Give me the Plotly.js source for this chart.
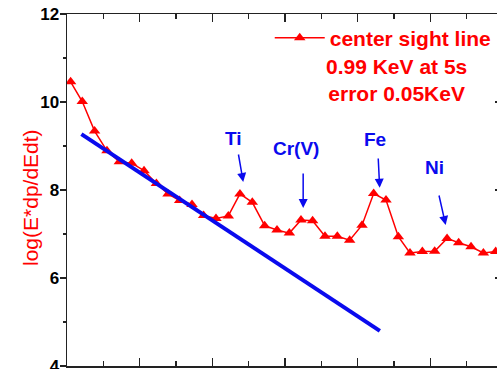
<!DOCTYPE html>
<html>
<head>
<meta charset="utf-8">
<script src="https://cdn.plot.ly/plotly-3.0.1.min.js"></script>
<style>
html, body { margin: 0; padding: 0; overflow: hidden; background: #fff; }
#chart { width: 520px; height: 420px; }
</style>
</head>
<body>
<div id="chart"></div>
<script>
// Energy (keV) of each measured point
var energyKeV = [2.05, 2.21, 2.38, 2.55, 2.72, 2.89, 3.06, 3.23, 3.39, 3.55, 3.72, 3.88,
                 4.05, 4.22, 4.38, 4.55, 4.72, 4.89, 5.06, 5.22, 5.38, 5.55, 5.72, 5.89,
                 6.06, 6.22, 6.39, 6.56, 6.72, 6.89, 7.06, 7.23, 7.39, 7.56, 7.73, 7.90];
// log(E*dp/dEdt), center sight line
var centerSightLine = [10.46, 10.01, 9.34, 8.89, 8.64, 8.61, 8.44, 8.15, 7.91, 7.76, 7.67, 7.42,
                       7.35, 7.41, 7.91, 7.72, 7.19, 7.09, 7.02, 7.32, 7.30, 6.95, 6.95, 6.86,
                       7.20, 7.92, 7.77, 6.94, 6.57, 6.60, 6.61, 6.90, 6.80, 6.71, 6.57, 6.60];
// straight-line fit of the continuum
var fitX = [2.198, 6.305];
var fitY = [9.27, 4.80];
// element line labels
var lineLabels = ["Ti", "Cr(V)", "Fe", "Ni"];
var lineLabelX = [4.294, 5.147, 6.241, 7.053];
var lineLabelY = [9.18, 8.95, 9.14, 8.52];
var yTickVals = [4, 6, 8, 10, 12];
var yTickText = ["4", "6", "8", "10", "12"];
var xTickVals = [2, 3, 4, 5, 6, 7, 8];
var yTitle = "log(E*dp/dEdt)";
var legendName = "center sight line";
var infoText = "0.99 KeV at 5s<br>error 0.05KeV";

var FONT = 'Arial, "Liberation Sans", sans-serif';
var AXC = '#222';
var BLUE = '#0a0aee';

var traces = [
  {
    x: energyKeV, y: centerSightLine, type: 'scatter', mode: 'lines+markers',
    name: legendName,
    line: {color: '#ff0000', width: 1.5},
    marker: {symbol: 'triangle-up', size: 10, color: '#ff0000'}
  },
  {
    x: fitX, y: fitY, type: 'scatter', mode: 'lines', showlegend: false,
    line: {color: BLUE, width: 4}, hoverinfo: 'skip'
  },
  {
    x: [], y: [], yaxis: 'y2', type: 'scatter', showlegend: false, hoverinfo: 'skip'
  }
];

var annotations = [];
for (var i = 0; i < lineLabels.length; i++) {
  annotations.push({
    x: lineLabelX[i], y: lineLabelY[i], xref: 'x', yref: 'y',
    text: '<b>' + lineLabels[i] + '</b>', showarrow: false,
    font: {family: FONT, size: 19, color: BLUE},
    xanchor: 'center', yanchor: 'middle'
  });
}
// arrows pointing to the peaks: [tailX, tailY, headX, headY]
var arrows = [
  [4.356, 8.841, 4.425, 8.182],
  [5.250, 8.409, 5.250, 7.591],
  [6.282, 8.750, 6.303, 8.050],
  [7.115, 7.909, 7.211, 7.205]
];
arrows.forEach(function (a) {
  annotations.push({
    ax: a[0], ay: a[1], axref: 'x', ayref: 'y',
    x: a[2], y: a[3], xref: 'x', yref: 'y',
    text: '', showarrow: true, arrowhead: 2, arrowsize: 1.2, arrowwidth: 1.5,
    arrowcolor: BLUE, standoff: 0, startstandoff: 0
  });
});
annotations.push({
  x: 6.537, y: 10.5, xref: 'x', yref: 'y',
  text: '<b>' + infoText + '</b>', showarrow: false, align: 'center',
  font: {family: FONT, size: 21, color: '#ff0000'},
  xanchor: 'center', yanchor: 'middle'
});
// y-axis title
annotations.push({
  x: -0.085, y: 0.48, xref: 'paper', yref: 'paper',
  text: yTitle, textangle: -90, showarrow: false,
  font: {family: FONT, size: 21, color: '#ff0000'},
  xanchor: 'center', yanchor: 'middle'
});

var boldTicks = yTickText.map(function (t) { return '<b>' + t + '</b>'; });

var layout = {
  width: 520, height: 420,
  margin: {l: 67, r: 17, t: 14, b: 54, pad: 0},
  paper_bgcolor: '#fff', plot_bgcolor: '#fff',
  font: {family: FONT, color: '#000'},
  showlegend: true,
  legend: {
    x: 0.465, y: 0.99, xanchor: 'left', yanchor: 'top',
    bgcolor: 'rgba(0,0,0,0)', borderwidth: 0,
    font: {family: FONT, size: 21, color: '#ff0000', weight: 700},
    itemwidth: 50
  },
  xaxis: {
    range: [2, 8], tickvals: xTickVals, ticks: 'inside', ticklen: 8, tickwidth: 1.5,
    tickcolor: AXC, showline: true, linecolor: AXC, linewidth: 1.5, mirror: 'ticks',
    showgrid: false, zeroline: false, showticklabels: false,
    minor: {dtick: 0.5, ticks: 'inside', ticklen: 5, tickwidth: 1.5, tickcolor: AXC, showgrid: false}
  },
  yaxis: {
    range: [4, 12], tickvals: yTickVals, ticktext: boldTicks, ticks: 'outside', ticklen: 6,
    tickwidth: 1.5, tickcolor: AXC, showline: true, linecolor: AXC, linewidth: 1.5,
    showgrid: false, zeroline: false, ticklabelstandoff: -3,
    tickfont: {family: FONT, size: 17, weight: 700, color: '#000'},
    minor: {dtick: 1, ticks: 'outside', ticklen: 3, tickwidth: 1.5, tickcolor: AXC, showgrid: false}
  },
  yaxis2: {
    overlaying: 'y', side: 'right', range: [4, 12], tickvals: yTickVals, ticks: 'inside',
    ticklen: 8, tickwidth: 1.5, tickcolor: AXC, showline: true, linecolor: AXC, linewidth: 1.5,
    showticklabels: false, showgrid: false, zeroline: false,
    minor: {dtick: 1, ticks: 'inside', ticklen: 5, tickwidth: 1.5, tickcolor: AXC, showgrid: false}
  },
  annotations: annotations
};

Plotly.newPlot('chart', traces, layout, {displayModeBar: false, staticPlot: true});
</script>
</body>
</html>
